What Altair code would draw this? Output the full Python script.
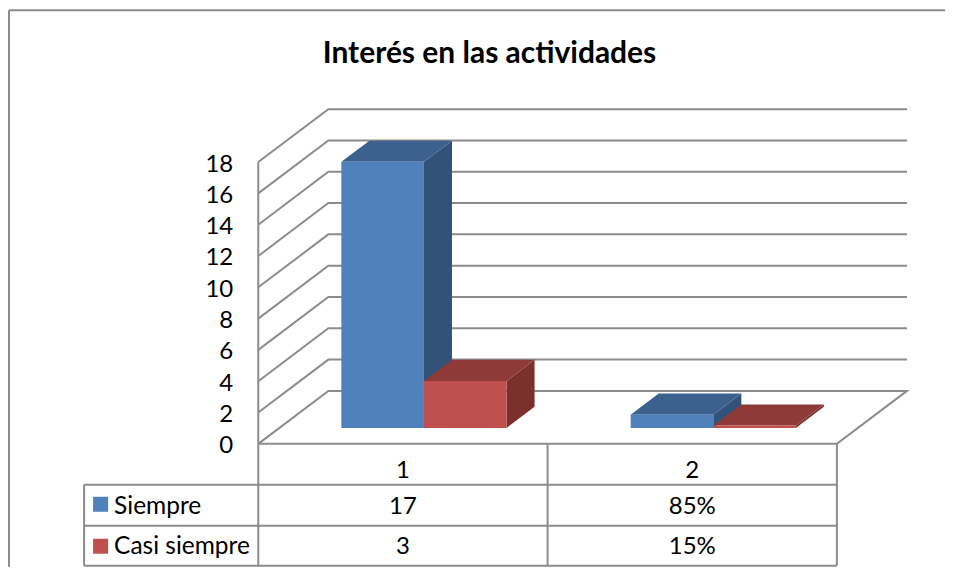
import altair as alt
import pandas as pd

# chart values
title_text = "Interés en las actividades"
series = ["Siempre", "Casi siempre"]
categories = ["1", "2"]
values_siempre = [17, 0.85]
values_casi = [3, 0.15]
table_siempre = ["17", "85%"]
table_casi = ["3", "15%"]
ticks = [0, 2, 4, 6, 8, 10, 12, 14, 16, 18]
colors_front = ["#4F81BD", "#C0504D"]
colors_top = ["#3C618F", "#8E3A38"]
colors_side = ["#32527A", "#7B302E"]

GRID = "#8C8C8C"
FONT = "Lato"
# projection of the 3D box, in page pixels
X0, CAT_W, DX, DY = 258.0, 289.0, 70.0, 53.0
Y0, UNIT = 444.0, 15.67
D_FRONT, D_BACK = 0.30, 0.70
GAP = 0.2145
BAR_W = (1 - 2 * GAP) / 2
PX_L, PX_R, PX_T, PX_B = 8.0, 944.0, 8.0, 567.0


def yv(py):
    return (Y0 - py) / UNIT


def proj(c, v, d):
    return X0 + CAT_W * c + DX * d, yv(Y0 - UNIT * v - DY * d)


xs = alt.Scale(domain=[PX_L, PX_R], nice=False, zero=False)
ys = alt.Scale(domain=[yv(PX_B), yv(PX_T)], nice=False, zero=False)
yaxis = alt.Axis(values=ticks, domain=False, ticks=False, grid=False, title=None,
                 labelFont=FONT, labelFontSize=24, labelColor="#000000",
                 labelPadding=0, offset=-225, labelOverlap=False, format="d", labelOffset=2)
X = alt.X("x:Q", scale=xs, axis=None)
Y = alt.Y("y:Q", scale=ys, axis=yaxis)
layers = []

# back wall, side wall and floor
grid_rows = []
for v in ticks:
    a = proj(0, v, 0)
    b = proj(0, v, 1)
    c = proj(2, v, 1)
    rows = [a, b, c]
    if v == 0:
        rows = [a, b, c, proj(2, 0, 0), a]
    for i, (x, y) in enumerate(rows):
        grid_rows.append({"x": x, "y": y, "k": v, "o": i})
layers.append(alt.Chart(pd.DataFrame(grid_rows)).mark_line(color=GRID, strokeWidth=2, strokeJoin="miter").encode(
    x=X, y=Y, detail="k:N", order="o:Q"))

# table lines and chart frame, in page pixels
rule_rows = [
    {"x": 9, "x2": PX_R, "y": yv(10), "y2": yv(10)},
    {"x": 9, "x2": 9, "y": yv(10), "y2": yv(PX_B)},
    {"x": 258, "x2": 258, "y": yv(162), "y2": yv(566)},
    {"x": 84, "x2": 84, "y": yv(485), "y2": yv(566)},
    {"x": 547, "x2": 547, "y": yv(444), "y2": yv(566)},
    {"x": 836, "x2": 836, "y": yv(444), "y2": yv(566)},
    {"x": 84, "x2": 836, "y": yv(485), "y2": yv(485)},
    {"x": 84, "x2": 836, "y": yv(526), "y2": yv(526)},
    {"x": 84, "x2": 836, "y": yv(566), "y2": yv(566)},
]
layers.append(alt.Chart(pd.DataFrame(rule_rows)).mark_rule(color=GRID, strokeWidth=2).encode(
    x=X, x2="x2:Q", y=Y, y2="y2:Q"))

# 3D bars
for ci in range(len(categories)):
    for si, vals in enumerate([values_siempre, values_casi]):
        v = vals[ci]
        c0 = ci + GAP + si * BAR_W
        c1 = c0 + BAR_W
        # side face
        s1 = proj(c1, 0, D_FRONT)
        s1t = proj(c1, v, D_FRONT)
        s2 = proj(c1, 0, D_BACK)
        s2t = proj(c1, v, D_BACK)
        side = pd.DataFrame([{"x": s1[0], "y": s1[1], "y2": s1t[1]},
                             {"x": s2[0], "y": s2[1], "y2": s2t[1]}])
        layers.append(alt.Chart(side).mark_area(color=colors_side[si], orient="vertical").encode(
            x=X, y=Y, y2="y2:Q"))
        # top face
        t1, t1r = proj(c0, v, D_FRONT), proj(c1, v, D_FRONT)
        t2, t2r = proj(c0, v, D_BACK), proj(c1, v, D_BACK)
        top = pd.DataFrame([{"x": t1[0], "x2": t1r[0], "y": t1[1]},
                            {"x": t2[0], "x2": t2r[0], "y": t2[1]}])
        layers.append(alt.Chart(top).mark_area(color=colors_top[si], orient="horizontal").encode(
            x=X, x2="x2:Q", y=Y))
        # front face
        f0, f1 = proj(c0, 0, D_FRONT), proj(c1, v, D_FRONT)
        front = pd.DataFrame([{"x": f0[0], "x2": f1[0], "y": f0[1], "y2": f1[1]}])
        layers.append(alt.Chart(front).mark_rect(color=colors_front[si]).encode(
            x=X, x2="x2:Q", y=Y, y2="y2:Q"))

# legend keys in the data table
keys = pd.DataFrame([
    {"x": 93, "x2": 108, "y": yv(497), "y2": yv(512), "s": series[0]},
    {"x": 93, "x2": 108, "y": yv(539), "y2": yv(554), "s": series[1]},
])
layers.append(alt.Chart(keys).mark_rect().encode(
    x=X, x2="x2:Q", y=Y, y2="y2:Q",
    color=alt.Color("s:N", scale=alt.Scale(domain=series, range=colors_front), legend=None)))

# table text
centers = [402.5, 691.5]
text_rows = []
for i in range(2):
    text_rows.append({"x": centers[i], "y": yv(471), "t": categories[i]})
    text_rows.append({"x": centers[i], "y": yv(507), "t": table_siempre[i]})
    text_rows.append({"x": centers[i], "y": yv(547), "t": table_casi[i]})
layers.append(alt.Chart(pd.DataFrame(text_rows)).mark_text(
    font=FONT, fontSize=24, color="#000000", align="center", baseline="middle").encode(
    x=X, y=Y, text="t:N"))
leg_rows = [{"x": 114, "y": yv(507), "t": series[0]}, {"x": 114, "y": yv(547), "t": series[1]}]
layers.append(alt.Chart(pd.DataFrame(leg_rows)).mark_text(
    font=FONT, fontSize=24.5, color="#000000", align="left", baseline="middle").encode(
    x=X, y=Y, text="t:N"))

# title
layers.append(alt.Chart(pd.DataFrame([{"x": 489, "y": yv(54), "t": title_text}])).mark_text(
    font=FONT, fontSize=30, fontWeight="bold", color="#000000", align="center", baseline="middle").encode(
    x=X, y=Y, text="t:N"))

chart = alt.layer(*layers).properties(
    width=938, height=559, padding=0, background="#FFFFFF"
).configure_view(stroke=None)

chart.save("out.html", embed_options={"renderer": "svg", "actions": False})
